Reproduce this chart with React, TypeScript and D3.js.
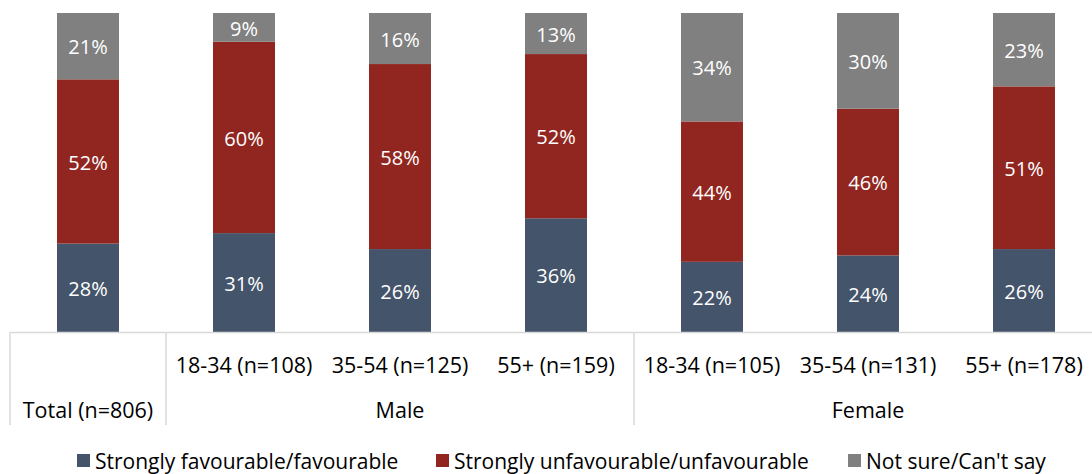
import React from "react";
import * as d3 from "d3";

const categories = ["Total (n=806)", "18-34 (n=108)", "35-54 (n=125)", "55+ (n=159)", "18-34 (n=105)", "35-54 (n=131)", "55+ (n=178)"];
const groups = [
  { name: "Total (n=806)", start: 0, end: 1 },
  { name: "Male", start: 1, end: 4 },
  { name: "Female", start: 4, end: 7 },
];
const seriesNames = ["Strongly favourable/favourable", "Strongly unfavourable/unfavourable", "Not sure/Can't say"];
const favourable = [28, 31, 26, 36, 22, 24, 26];
const unfavourable = [52, 60, 58, 52, 44, 46, 51];
const notSure = [21, 9, 16, 13, 34, 30, 23];
const colors = ["#44546A", "#912620", "#808080"];

const W = 1092, H = 474;
const FONT = "'Open Sans', sans-serif";

export default function App() {
  const x = d3.scaleBand<number>().domain(d3.range(categories.length)).range([10, 1102]).paddingInner(0).paddingOuter(0);
  const y = d3.scaleLinear().domain([0, 1]).range([332, 13]);
  const barW = 62;
  const rows = categories.map((c, i) => {
    const vals = [favourable[i], unfavourable[i], notSure[i]];
    const total = d3.sum(vals);
    return { c, i, vals, total };
  });
  const stack = d3.stack<any, string>().keys(["0", "1", "2"]).value((d, k) => d.vals[+k] / d.total);
  const stacked = stack(rows as any);
  const legendX = [77, 436, 848];
  const bx = (b: number) => (b === categories.length ? 1102 : x(b)!);
  return (
    <svg width={W} height={H} style={{ position: "absolute", left: 0, top: 0, fontFamily: FONT }}>
      <rect width={W} height={H} fill="#fff" />
      {stacked.map((s, si) => (
        <g key={si}>
          {s.map((d, i) => {
            const cx = x(i)! + x.bandwidth() / 2;
            const y0 = y(d[0]), y1 = y(d[1]);
            return (
              <g key={i}>
                <rect x={cx - barW / 2} y={y1} width={barW} height={y0 - y1} fill={colors[si]} />
                <text x={cx} y={(y0 + y1) / 2 + 1} dy="0.36em" textAnchor="middle" fill="#fff" fontSize={20}>
                  {rows[i].vals[si]}%
                </text>
              </g>
            );
          })}
        </g>
      ))}
      <line x1={10} x2={W} y1={332.5} y2={332.5} stroke="#D9D9D9" strokeWidth={1.5} />
      {[0, 1, 4, 7].map((b) => (
        <line key={b} x1={bx(b)} x2={bx(b)} y1={332} y2={425} stroke="#D9D9D9" strokeWidth={1.5} />
      ))}
      {categories.map((c, i) =>
        i === 0 ? null : (
          <text key={i} x={x(i)! + x.bandwidth() / 2} y={365} dy="0.36em" textAnchor="middle" fontSize={21.5} fill="#000">
            {c}
          </text>
        )
      )}
      {groups.map((g) => (
        <text key={g.name} x={(bx(g.start) + bx(g.end)) / 2} y={410} dy="0.36em" textAnchor="middle" fontSize={21.5} fill="#000">
          {g.name}
        </text>
      ))}
      {seriesNames.map((n, i) => (
        <g key={n}>
          <rect x={legendX[i]} y={454} width={13} height={13} fill={colors[i]} />
          <text x={legendX[i] + 18} y={461} dy="0.36em" fontSize={21} fill="#000">
            {n}
          </text>
        </g>
      ))}
    </svg>
  );
}
